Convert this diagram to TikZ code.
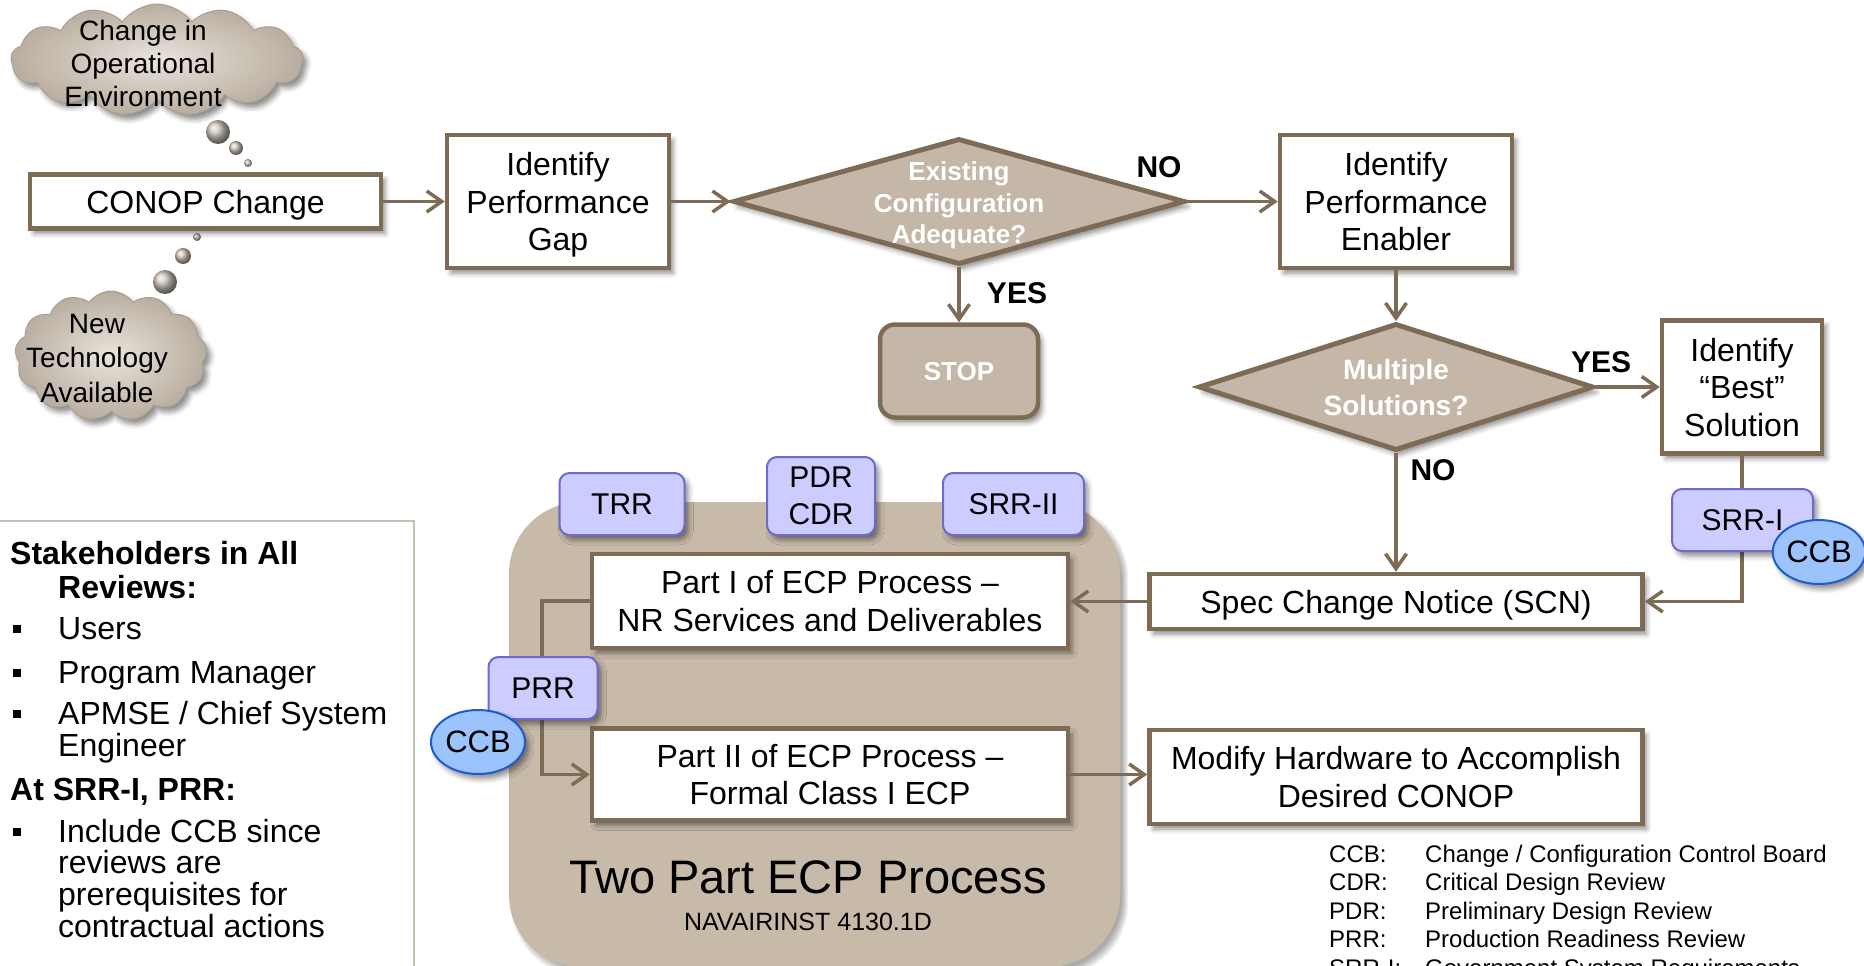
\documentclass[tikz,border=0pt]{standalone}
\usepackage{fontspec}
\setmainfont{Liberation Sans}
\usetikzlibrary{shapes.geometric,shapes.symbols,arrows.meta,shadows.blur,calc}

\definecolor{edgebrown}{HTML}{7E6B56}
\definecolor{tanfill}{HTML}{C5B7A7}
\definecolor{ecpfill}{HTML}{C8BAA9}
\definecolor{revfill}{HTML}{CCCCFF}
\definecolor{revedge}{HTML}{6A6AD0}
\definecolor{ccbfill}{HTML}{9CC3FB}
\definecolor{ccbedge}{HTML}{1D5BD0}
\definecolor{cloudin}{HTML}{EAE4DC}
\definecolor{cloudout}{HTML}{B8AD9F}
\definecolor{cloudedge}{HTML}{A99E90}
\definecolor{ballcol}{HTML}{CBC3B8}
\definecolor{panelline}{HTML}{C9BFB3}

\newcommand\pxfont[2]{\fontsize{#1}{#2}\selectfont}

\tikzset{
  softshadow/.style={blur shadow={shadow xshift=4pt, shadow yshift=-5pt,
      shadow blur radius=5pt, shadow opacity=45}},
  stepbox/.style={rectangle, draw=edgebrown, line width=4.5pt, fill=white,
      inner sep=0pt, align=center, text depth=0pt, font=\pxfont{32}{37.5}, softshadow},
  decision/.style={diamond, draw=edgebrown, line width=5pt, fill=tanfill,
      inner sep=0pt, softshadow},
  dtext/.style={align=center, text=white, inner sep=0pt, text depth=0pt},
  stopbox/.style={rectangle, rounded corners=15pt, draw=edgebrown, line width=4.5pt,
      fill=tanfill, inner sep=0pt, text depth=0pt, text=white,
      font=\pxfont{26}{30}\bfseries, softshadow},
  review/.style={rectangle, rounded corners=10pt, draw=revedge, line width=2pt,
      fill=revfill, inner sep=0pt, align=center, text depth=0pt,
      font=\pxfont{30}{37}, softshadow},
  ccb/.style={ellipse, draw=ccbedge, line width=2pt, fill=ccbfill, inner sep=0pt,
      minimum width=92pt, minimum height=64pt, text depth=0pt,
      font=\pxfont{31}{36}, softshadow},
  answer/.style={inner sep=0pt, text depth=0pt, font=\pxfont{30}{34}\bfseries},
  flow/.style={draw=edgebrown, line width=3.5pt,
      -{Straight Barb[length=15pt, width=21pt]}},
  thought/.style={cloud, cloud puffs=13, cloud puff arc=110, draw=cloudedge,
      line width=1pt, shading=radial, inner color=cloudin, outer color=cloudout,
      inner sep=0pt, softshadow},
  cloudtext/.style={align=center, inner sep=0pt, text depth=0pt, font=\pxfont{28}{33}},
  sidetext/.style={anchor=base west, inner sep=0pt, font=\pxfont{32}{36}},
  sidehead/.style={anchor=base west, inner sep=0pt, font=\pxfont{32}{36}\bfseries},
  legend/.style={anchor=base west, inner sep=0pt, font=\pxfont{24}{28}},
}

\begin{document}
\begin{tikzpicture}[x=1pt, y=-1pt]
\useasboundingbox (0,0) rectangle (1864,966);

% ---- container of the two part ECP process, with a soft shadow
\foreach \e in {-3,...,3}
  \fill[black, opacity=0.055, rounded corners=72pt] (514-\e,508-\e) rectangle (1125+\e,973+\e);
\node[rectangle, fill=ecpfill, rounded corners=72pt, minimum width=611pt,
      minimum height=465pt, inner sep=0pt] (ecp) at (814.5,734.5) {};
\node[inner sep=0pt, font=\pxfont{47}{52}] (ecptitle) at (808,877) {Two Part ECP Process};
\node[inner sep=0pt, font=\pxfont{25}{30}] (ecpref) at (808,922) {NAVAIRINST 4130.1D};

% ---- thought clouds
\node[thought, minimum width=292pt, minimum height=112pt] (envcloud) at (157,60) {};
\node[cloudtext] (envtext) at (143,63) {Change in\\Operational\\Environment};
\node[thought, minimum width=192pt, minimum height=130pt] (techcloud) at (111,356) {};
\node[cloudtext, font=\pxfont{28}{34.5}] (techtext) at (97,358) {New\\Technology\\Available};

\shade[ball color=ballcol] (218,132) circle[radius=12pt];
\shade[ball color=ballcol] (236,148) circle[radius=7pt];
\shade[ball color=ballcol] (248,163) circle[radius=4pt];
\shade[ball color=ballcol] (197,237) circle[radius=4pt];
\shade[ball color=ballcol] (183,256) circle[radius=8pt];
\shade[ball color=ballcol] (165,282) circle[radius=12pt];

% ---- process steps and decisions
\node[stepbox, minimum width=351pt, minimum height=54pt] (conop) at (205.5,201.5) {CONOP Change};
\node[stepbox, minimum width=222pt, minimum height=133pt] (gap) at (558,201.5) {Identify\\Performance\\Gap};
\node[decision, minimum width=452pt, minimum height=126pt] (adequate) at (959,201.5) {};
\node[dtext, font=\pxfont{26}{31.5}\bfseries] (adqtext) at (959,203) {Existing\\Configuration\\Adequate?};
\node[stopbox, minimum width=158pt, minimum height=93pt] (stop) at (959,371) {STOP};
\node[stepbox, minimum width=232pt, minimum height=133pt] (enabler) at (1396,201.5) {Identify\\Performance\\Enabler};
\node[decision, minimum width=395pt, minimum height=127pt] (multi) at (1396,387) {};
\node[dtext, font=\pxfont{28}{36}\bfseries] (multitext) at (1396,387) {Multiple\\Solutions?};
\node[stepbox, minimum width=160pt, minimum height=133pt] (best) at (1742,387) {Identify\\“Best”\\Solution};
\node[stepbox, minimum width=493pt, minimum height=55pt] (scn) at (1396,601.5) {Spec Change Notice (SCN)};
\node[stepbox, minimum width=476pt, minimum height=94pt] (part1) at (830,601) {Part I of ECP Process –\\NR Services and Deliverables};
\node[stepbox, minimum width=476pt, minimum height=92pt] (part2) at (830,774.5) {Part II of ECP Process –\\Formal Class I ECP};
\node[stepbox, minimum width=493pt, minimum height=94pt] (modify) at (1396,777) {Modify Hardware to Accomplish\\Desired CONOP};

% ---- connectors (drawn before the review tags, which sit on top of them)
\draw[flow] (conop.east) -- (gap.west);
\draw[flow] (gap.east) -- (adequate.west);
\draw[flow] (adequate.east) -- (enabler.west);
\draw[flow] (adequate.south) -- (stop.north);
\draw[flow] (enabler.south) -- (multi.north);
\draw[flow] (multi.east) -- (best.west);
\draw[flow] (multi.south) -- (scn.north);
\draw[flow] (best.south) -- (best.south |- scn.east) -- (scn.east);
\draw[flow] (scn.west) -- (part1.east |- scn.west);
\draw[flow] (part1.west) -- ++(-48,0) |- (part2.west);
\draw[flow] (part2.east) -- (modify.west |- part2.east);

% ---- answers
\node[answer] (noone) at (1159,167) {NO};
\node[answer] (yesone) at (1017,293) {YES};
\node[answer] (yestwo) at (1601,362) {YES};
\node[answer] (notwo) at (1433,470) {NO};

% ---- review tags
\node[review, minimum width=125pt, minimum height=62pt] (trr) at (622,504) {TRR};
\node[review, minimum width=108pt, minimum height=78pt] (pdr) at (821,496) {PDR\\CDR};
\node[review, minimum width=141pt, minimum height=62pt] (srrtwo) at (1013.5,504) {SRR-II};
\node[review, minimum width=109pt, minimum height=62pt] (prr) at (543,688) {PRR};
\node[ccb, minimum width=94pt] (ccbprr) at (478,742) {CCB};
\node[review, minimum width=141pt, minimum height=62pt] (srrone) at (1742.5,520) {SRR-I};
\node[ccb, minimum width=88pt] (ccbsrr) at (1819,552) {CCB};

% ---- stakeholder panel
\draw[panelline, line width=2pt] (-2,521) -- (414,521) -- (414,970);
\node[sidehead] (sk1) at (10,564) {Stakeholders in All};
\node[sidehead] (sk2) at (58,598) {Reviews:};
\node[sidetext] (sk3) at (58,639) {Users};
\node[sidetext] (sk4) at (58,683) {Program Manager};
\node[sidetext] (sk5) at (58,724) {APMSE / Chief System};
\node[sidetext] (sk6) at (58,756) {Engineer};
\node[sidehead] (sk7) at (10,800) {At SRR-I, PRR:};
\node[sidetext] (sk8) at (58,842) {Include CCB since};
\node[sidetext] (sk9) at (58,873) {reviews are};
\node[sidetext] (sk10) at (58,905) {prerequisites for};
\node[sidetext] (sk11) at (58,937) {contractual actions};
\foreach \b in {639,683,724,842}
  \fill (13,\b-14) rectangle (21,\b-6);

% ---- abbreviations
\node[legend] (lg1a) at (1329,862) {CCB:};
\node[legend] (lg1b) at (1425,862) {Change / Configuration Control Board};
\node[legend] (lg2a) at (1329,890.5) {CDR:};
\node[legend] (lg2b) at (1425,890.5) {Critical Design Review};
\node[legend] (lg3a) at (1329,919) {PDR:};
\node[legend] (lg3b) at (1425,919) {Preliminary Design Review};
\node[legend] (lg4a) at (1329,947.5) {PRR:};
\node[legend] (lg4b) at (1425,947.5) {Production Readiness Review};
\node[legend] (lg5a) at (1329,976) {SRR-I:};
\node[legend] (lg5b) at (1425,976) {Government System Requirements};
\end{tikzpicture}
\end{document}
